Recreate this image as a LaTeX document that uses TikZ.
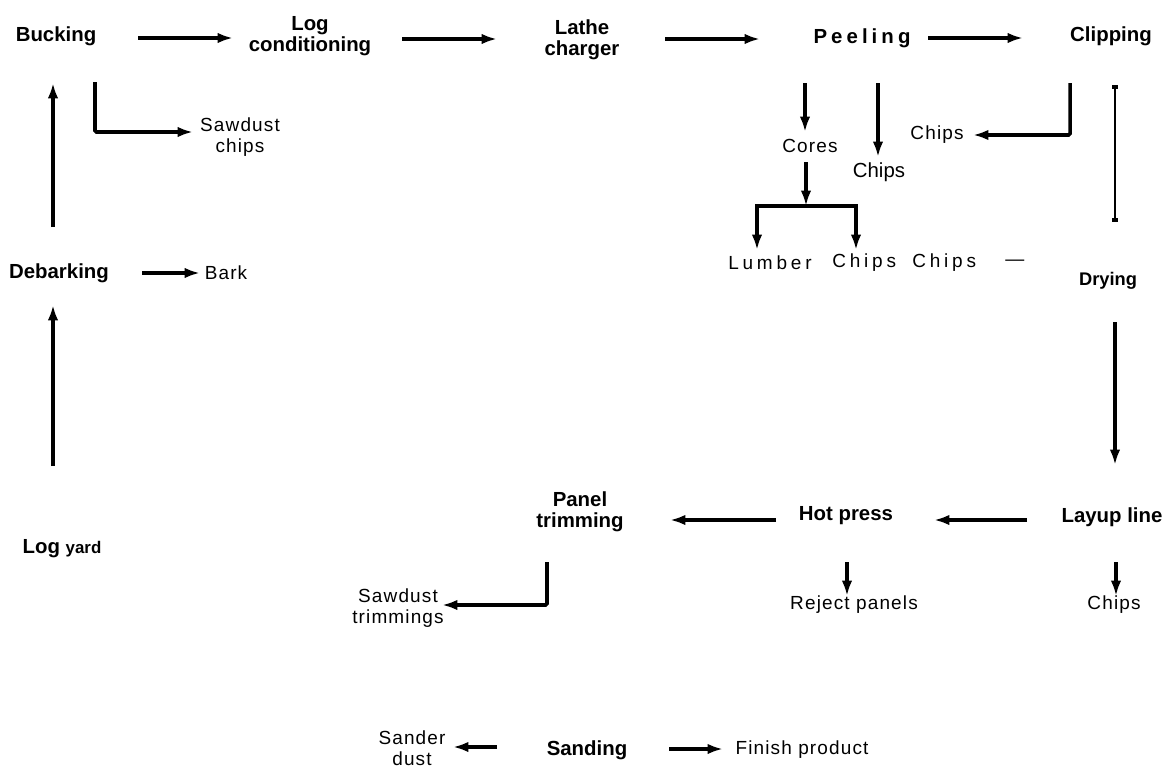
\documentclass[tikz,border=0pt]{standalone}
\usepackage{fontspec}
\setmainfont{Liberation Sans}
\newfontfamily\spacedfont[LetterSpace=6]{Liberation Sans}
\newfontfamily\widefont[LetterSpace=20]{Liberation Sans}
\usetikzlibrary{arrows.meta, calc}

\tikzset{
    stage/.style={font=\bfseries\fontsize{14.5}{15}\selectfont, align=center, inner sep=0pt},
    waste/.style={font=\spacedfont\fontsize{13.5}{15}\selectfont, align=center, inner sep=0pt},
    flow/.style={line width=2.5pt, -{Latex[length=11pt, width=7.5pt]}},
    link/.style={line width=1.5pt, {Square[length=3pt, width=4.5pt]}-{Square[length=3pt, width=4.5pt]}}
}

\begin{document}
\begin{tikzpicture}[x=0.025cm, y=-0.025cm]
    \useasboundingbox (0, 0) rectangle (1173, 769);
    % Process stages
    \node[stage] (buck) at (56, 36) {Bucking};
    \node[stage] (logc) at (310, 36) {Log\\conditioning};
    \node[stage] (lathe) at (582, 40) {Lathe\\charger};
    \node[stage, font=\widefont\bfseries\fontsize{14.5}{15}\selectfont] (peel) at (862, 38) {Peeling};
    \node[stage] (clip) at (1111, 36) {Clipping};
    \node[stage] (debark) at (59, 273) {Debarking};
    \node[stage] (yard) at (62, 549) {Log {\fontsize{12}{14}\selectfont yard}};
    \node[stage, font=\bfseries\fontsize{13}{15}\selectfont] (dry) at (1108, 281) {Drying};
    \node[stage] (layup) at (1112, 517) {Layup line};
    \node[stage] (hot) at (846, 516) {Hot press};
    \node[stage] (trim) at (580, 512) {Panel\\trimming};
    \node[stage] (sand) at (587, 750) {Sanding};
    % By-products
    \node[waste] (bark) at (226, 273) {Bark};
    \node[waste] (sawchip) at (240, 137) {Sawdust\\chips};
    \node[waste] (cores) at (810, 146) {Cores};
    \node[waste, font=\fontsize{14.5}{15}\selectfont] (chipsA) at (879, 172) {Chips};
    \node[waste] (chipsB) at (937, 135) {Chips};
    \node[waste, anchor=west, font=\widefont\fontsize{13.5}{15}\selectfont] (lumber) at (728, 263) {Lumber};
    \node[waste, anchor=west, font=\widefont\fontsize{13.5}{15}\selectfont] (chipsC) at (832, 263) {Chips};
    \node[waste, anchor=west, font=\widefont\fontsize{13.5}{15}\selectfont] (chipsD) at (912, 263) {Chips};
    \node[waste, anchor=west] (dash) at (1005, 263) {—};
    \node[waste] (reject) at (854, 605) {Reject panels};
    \node[waste] (chipsE) at (1114, 605) {Chips};
    \node[waste] (sawtrim) at (398, 608) {Sawdust\\trimmings};
    \node[waste] (sdust) at (412, 748) {Sander\\dust};
    \node[waste] (finish) at (802, 750) {Finish product};
    % Main line
    \draw[flow] ($(yard)+(-9, -83)$) -- ($(debark)+(-6, 32)$);
    \draw[flow] ($(debark)+(-6, -46)$) -- ($(buck)+(-3, 47)$);
    \draw[flow] ($(buck)+(82, 2)$) -- ($(logc)+(-77, 2)$);
    \draw[flow] ($(logc)+(92, 3)$) -- ($(lathe)+(-85, -1)$);
    \draw[flow] ($(lathe)+(83, -1)$) -- ($(peel)+(-102, 1)$);
    \draw[flow] ($(peel)+(66, 0)$) -- ($(clip)+(-88, 2)$);
    \draw[link] ($(clip)+(4, 49)$) -- ($(dry)+(7, -59)$);
    \draw[flow] ($(dry)+(7, 41)$) -- ($(layup)+(3, -52)$);
    \draw[flow] ($(layup)+(-85, 3)$) -- ($(hot)+(88, 4)$);
    \draw[flow] ($(hot)+(-70, 4)$) -- ($(trim)+(90, 8)$);
    \draw[flow] ($(sand)+(-90, -3)$) -- ($(sdust)+(41, -1)$);
    \draw[flow] ($(sand)+(82, -1)$) -- ($(finish)+(-79, -1)$);
    % Side streams
    \draw[flow] ($(debark)+(83, 0)$) -- ($(bark)+(-26, 0)$);
    \draw[flow, rounded corners=1pt] ($(buck)+(39, 46)$) |- ($(sawchip)+(-47, -5)$);
    \draw[flow] ($(peel)+(-57, 45)$) -- ($(cores)+(-5, -14)$);
    \draw[flow] ($(peel)+(16, 45)$) -- ($(chipsA)+(-1, -15)$);
    \coordinate (split) at ($(cores)+(-4, 60)$);
    \draw[flow] ($(cores)+(-4, 16)$) -- (split);
    \draw[flow] (split) -| ($(lumber.west)+(29, -13)$);
    \draw[flow] (split) -| ($(chipsC.west)+(24, -13)$);
    \draw[flow, rounded corners=1pt] ($(clip)+(-41, 47)$) |- ($(chipsB)+(36, 0)$);
    \draw[flow] ($(hot)+(1, 46)$) -- ($(reject)+(-7, -9)$);
    \draw[flow] ($(layup)+(4, 45)$) -- ($(chipsE)+(2, -9)$);
    \draw[flow, rounded corners=1pt] ($(trim)+(-33, 50)$) |- ($(sawtrim)+(44, -3)$);
\end{tikzpicture}
\end{document}
